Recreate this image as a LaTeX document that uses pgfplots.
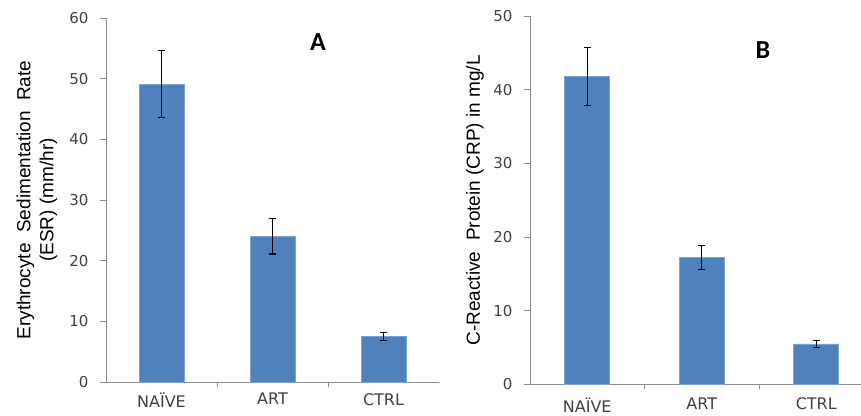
\documentclass[border=0pt]{standalone}
\usepackage{pgfplots}
\pgfplotsset{compat=1.18}
\usepackage{fontspec}
\setmainfont{Liberation Sans}
\newfontfamily\tickfont{DejaVu Sans}
\newfontfamily\panelfont{Carlito}
\definecolor{barblue}{HTML}{4F81BD}
\definecolor{baredge}{HTML}{7FA3D0}
\definecolor{axgray}{HTML}{8C8C8C}
\definecolor{tickgray}{HTML}{404040}
\pgfplotsset{
  panel/.style={
    scale only axis, anchor=south west,
    axis lines*=left,
    axis line style={draw=axgray, line width=0.8pt},
    xmin=0.5, ymin=0,
    xtick={1,2,3}, xticklabels={NAÏVE,ART,CTRL},
    minor xtick={1.5,2.5},
    major x tick style={draw=none},
    minor x tick style={draw=axgray, line width=0.8pt},
    minor tick length=5pt,
    major tick length=6pt,
    tick align=outside,
    y tick style={draw=axgray, line width=0.8pt},
    /pgf/number format/assume math mode=true,
    ticklabel style={text=tickgray},
    yticklabel style={font=\tickfont\fontsize{15}{17}\selectfont, xshift=-8pt},
    xticklabel style={font=\tickfont\fontsize{16}{18}\selectfont, yshift=-4pt, inner ysep=1pt},
    ylabel style={font=\fontsize{19}{23}\selectfont, align=center, anchor=center, rotate=0},
    clip=false,
  },
  mybar/.style={ybar, bar width=45pt, fill=barblue, draw=baredge, line width=0.6pt,
    error bars/.cd, y dir=both, y explicit,
    error bar style={black, line width=1.1pt},
    error mark options={rotate=90, mark size=3.5pt, black, line width=1.1pt}},
}
\begin{document}
\begin{tikzpicture}
\useasboundingbox (0,0) rectangle (861pt,415pt);
\begin{axis}[panel, at={(106pt,33pt)}, width=333pt, height=364pt,
  xmax=3.5, ymax=60, ytick={0,10,...,60},
  ylabel={Erythrocyte\ \ Sedimentation\ \ Rate\\(ESR)\ (mm/hr)},
  ylabel style={at={(axis description cs:-0.207,0.5)}}]
\addplot[mybar] coordinates {(1,49.1) +- (0,5.5) (2,24.0) +- (0,2.9) (3,7.5) +- (0,0.6)};
\node[font=\panelfont\bfseries\fontsize{26}{28}\selectfont] at (axis cs:2.41,56) {A};
\end{axis}
\begin{axis}[panel, at={(530pt,30.7pt)}, width=331pt, height=368pt,
  xmax=3.391, ymax=50, ytick={0,10,...,50},
  xticklabel style={yshift=-2pt},
  ylabel={C-Reactive\ \ Protein\ (CRP)\ in\ mg/L},
  ylabel style={at={(axis description cs:-0.166,0.5)}}]
\addplot[mybar] coordinates {(1,41.8) +- (0,3.9) (2,17.2) +- (0,1.65) (3,5.5) +- (0,0.5)};
\node[font=\panelfont\bfseries\fontsize{26}{28}\selectfont] at (axis cs:2.535,45.4) {B};
\end{axis}
\end{tikzpicture}
\end{document}
